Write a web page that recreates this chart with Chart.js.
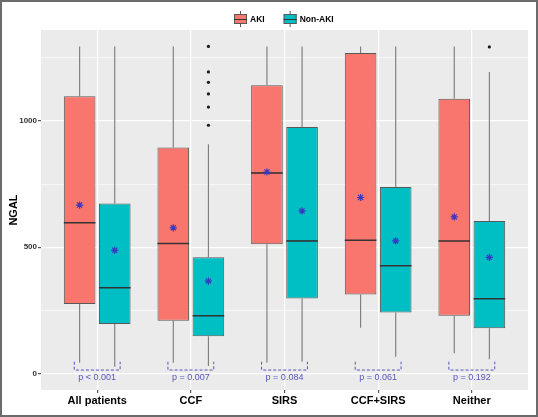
<!DOCTYPE html>
<html>
<head>
<meta charset="utf-8">
<title>NGAL by group</title>
<script src="https://cdn.jsdelivr.net/npm/chart.js@4.4.1/dist/chart.umd.min.js"></script>
<style>
  html, body { margin: 0; padding: 0; background: #fff; }
  canvas { display: block; }
</style>
</head>
<body>
<canvas id="chart" width="538" height="417"></canvas>
<script>
/* NGAL boxplots — AKI vs Non-AKI per patient group */

const categories = ['All patients', 'CCF', 'SIRS', 'CCF+SIRS', 'Neither'];
const yTicks = [0, 250, 500, 750, 1000, 1250];
const pValues = ['p < 0.001', 'p = 0.007', 'p = 0.084', 'p = 0.061', 'p = 0.192'];

const akiMin = [43, 43, 43, 181, 80];
const akiQ1 = [275, 209, 512, 313, 229];
const akiMedian = [597, 515, 794, 528, 525];
const akiQ3 = [1098, 895, 1141, 1269, 1088];
const akiMax = [1295, 1295, 1295, 1295, 1295];
const akiMean = [667, 577, 798, 697, 620];
const akiOutliers = [[], [], [], [], []];

const nonMin = [27, 30, 47, 67, 57];
const nonQ1 = [196, 148, 297, 242, 179];
const nonMedian = [340, 229, 525, 427, 296];
const nonQ3 = [673, 460, 976, 739, 604];
const nonMax = [1295, 908, 1295, 1295, 1194];
const nonMean = [488, 366, 644, 525, 460];
const nonOutliers = [[], [1295, 1194, 1153, 1107, 1055, 983], [], [], [1293]];

const series = [
  { label: 'AKI', color: '#F8766D', min: akiMin, q1: akiQ1, median: akiMedian, q3: akiQ3, max: akiMax, mean: akiMean, outliers: akiOutliers },
  { label: 'Non-AKI', color: '#00BFC4', min: nonMin, q1: nonQ1, median: nonMedian, q3: nonQ3, max: nonMax, mean: nonMean, outliers: nonOutliers }
];

const FONT = '"Liberation Sans", Arial, sans-serif';
const BOX_LINE = '#595959';
const MEAN_COLOR = '#3838c4';
const SIG_COLOR = '#5656bb';
const BRACKET_LOW = 14;   // y of the dashed bracket
const BRACKET_HIGH = 47;  // top of its end ticks

Chart.defaults.font.family = FONT;

function eachBox(chart, fn) {
  const y = chart.scales.y;
  series.forEach((s, d) => {
    chart.getDatasetMeta(d).data.forEach((bar, i) => fn(s, i, bar, y));
  });
}

function drawStar(ctx, x, y, r) {
  ctx.beginPath();
  ctx.moveTo(x - r, y); ctx.lineTo(x + r, y);
  ctx.moveTo(x, y - r); ctx.lineTo(x, y + r);
  const k = r * 0.7071;
  ctx.moveTo(x - k, y - k); ctx.lineTo(x + k, y + k);
  ctx.moveTo(x - k, y + k); ctx.lineTo(x + k, y - k);
  ctx.stroke();
}

const boxExtras = {
  id: 'boxExtras',
  beforeDraw(chart) {
    const { ctx, chartArea: a } = chart;
    ctx.save();
    ctx.fillStyle = '#fff';
    ctx.fillRect(0, 0, chart.width, chart.height);
    ctx.fillStyle = '#EBEBEB';
    ctx.fillRect(a.left, a.top, a.right - a.left, a.bottom - a.top);
    ctx.restore();
  },
  beforeDatasetsDraw(chart) {
    const ctx = chart.ctx;
    ctx.save();
    ctx.strokeStyle = '#7a7a7a';
    ctx.lineWidth = 1.1;
    eachBox(chart, (s, i, bar, y) => {
      ctx.beginPath();
      ctx.moveTo(bar.x, y.getPixelForValue(s.max[i]));
      ctx.lineTo(bar.x, y.getPixelForValue(s.q3[i]));
      ctx.moveTo(bar.x, y.getPixelForValue(s.q1[i]));
      ctx.lineTo(bar.x, y.getPixelForValue(s.min[i]));
      ctx.stroke();
    });
    ctx.restore();
  },
  afterDatasetsDraw(chart) {
    const ctx = chart.ctx;
    ctx.save();
    eachBox(chart, (s, i, bar, y) => {
      const half = bar.width / 2;
      const my = y.getPixelForValue(s.median[i]);
      ctx.strokeStyle = '#333';
      ctx.lineWidth = 1.6;
      ctx.beginPath();
      ctx.moveTo(bar.x - half, my);
      ctx.lineTo(bar.x + half, my);
      ctx.stroke();

      ctx.fillStyle = '#1a1a1a';
      s.outliers[i].forEach(v => {
        ctx.beginPath();
        ctx.arc(bar.x, y.getPixelForValue(v), 1.6, 0, Math.PI * 2);
        ctx.fill();
      });

      ctx.strokeStyle = MEAN_COLOR;
      ctx.lineWidth = 1.2;
      drawStar(ctx, bar.x, y.getPixelForValue(s.mean[i]), 3.6);
    });

    // significance brackets
    const y = chart.scales.y;
    const m0 = chart.getDatasetMeta(0).data;
    const m1 = chart.getDatasetMeta(1).data;
    const yl = y.getPixelForValue(BRACKET_LOW);
    const yh = y.getPixelForValue(BRACKET_HIGH);
    ctx.strokeStyle = SIG_COLOR;
    ctx.fillStyle = SIG_COLOR;
    ctx.lineWidth = 1;
    ctx.setLineDash([3, 2]);
    ctx.font = '9px ' + FONT;
    ctx.textAlign = 'center';
    ctx.textBaseline = 'middle';
    pValues.forEach((p, i) => {
      const x0 = m0[i].x - m0[i].width * 0.17;
      const x1 = m1[i].x + m1[i].width * 0.17;
      ctx.beginPath();
      ctx.moveTo(x0, yh); ctx.lineTo(x0, yl); ctx.lineTo(x1, yl); ctx.lineTo(x1, yh);
      ctx.stroke();
      ctx.fillText(p, (x0 + x1) / 2, yl + 7.5);
    });
    ctx.restore();
  },
  afterDraw(chart) {
    const ctx = chart.ctx;
    ctx.save();
    // legend
    ctx.font = 'bold 8.5px ' + FONT;
    ctx.textBaseline = 'middle';
    ctx.textAlign = 'left';
    let x = 234;
    const cy = 19;
    series.forEach(s => {
      ctx.strokeStyle = BOX_LINE;
      ctx.lineWidth = 1;
      ctx.beginPath();
      ctx.moveTo(x + 6.5, cy - 8); ctx.lineTo(x + 6.5, cy + 8);
      ctx.stroke();
      ctx.fillStyle = s.color;
      ctx.fillRect(x, cy - 5, 13, 10);
      ctx.strokeRect(x + 0.5, cy - 4.5, 12, 9);
      ctx.strokeStyle = '#333';
      ctx.beginPath();
      ctx.moveTo(x, cy + 0.5); ctx.lineTo(x + 13, cy + 0.5);
      ctx.stroke();
      ctx.fillStyle = '#000';
      ctx.fillText(s.label, x + 16, cy + 0.5);
      x += 16 + ctx.measureText(s.label).width + 19;
    });
    // outer frame
    ctx.strokeStyle = '#6b6b6b';
    ctx.lineWidth = 2;
    ctx.strokeRect(1, 1, chart.width - 2, chart.height - 2);
    ctx.restore();
  }
};

new Chart(document.getElementById('chart'), {
  type: 'bar',
  data: {
    datasets: series.map(s => ({
      label: s.label,
      data: categories.map((c, i) => ({ x: i + 1, y: [s.q1[i], s.q3[i]] })),
      backgroundColor: s.color,
      borderColor: BOX_LINE,
      borderWidth: 1,
      borderSkipped: false,
      categoryPercentage: 0.75,
      barPercentage: 0.9
    }))
  },
  options: {
    responsive: false,
    animation: false,
    devicePixelRatio: 1,
    layout: { padding: { top: 30, right: 10, left: 0, bottom: 0 } },
    plugins: { legend: { display: false }, tooltip: { enabled: false } },
    scales: {
      x: {
        type: 'linear',
        min: 0.4,
        max: 5.6,
        bounds: 'data',
        offset: false,
        afterBuildTicks: s => { s.ticks = categories.map((c, i) => ({ value: i + 1 })); },
        afterFit: s => { s.height = 27; },
        border: { display: false },
        grid: { offset: false, color: '#fff', lineWidth: 1.2, tickLength: 3, tickColor: '#555' },
        ticks: {
          autoSkip: false,
          maxRotation: 0,
          padding: 1,
          color: '#000',
          font: { size: 11, weight: 'bold' },
          callback: v => categories[v - 1]
        }
      },
      y: {
        min: -65,
        max: 1360,
        afterBuildTicks: s => { s.ticks = yTicks.map(v => ({ value: v })); },
        afterFit: s => { s.width = 41; },
        border: { display: false },
        grid: {
          color: '#fff',
          lineWidth: c => (c.tick && c.tick.value % 500 === 0 ? 1.2 : 0.6),
          tickLength: 3,
          tickColor: c => (c.tick && c.tick.value % 500 === 0 ? '#555' : 'rgba(0,0,0,0)')
        },
        ticks: {
          padding: 1,
          color: '#333',
          font: { size: 8, weight: 'bold' },
          callback: v => (v % 500 === 0 ? String(v) : '')
        },
        title: {
          display: true,
          text: 'NGAL',
          color: '#000',
          font: { size: 11, weight: 'bold' },
          padding: { top: 7, bottom: 0 }
        }
      }
    }
  },
  plugins: [boxExtras]
});
</script>
</body>
</html>
